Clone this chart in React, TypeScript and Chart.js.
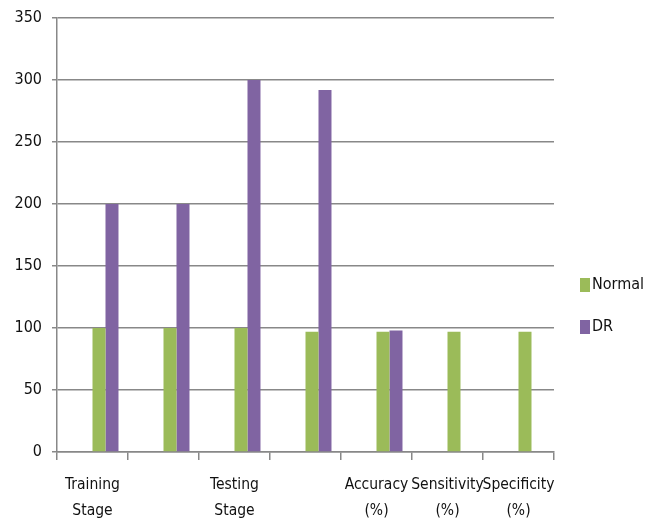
import React, { useEffect, useRef } from "react";
import { Chart, registerables } from "chart.js";

Chart.register(...registerables);

const categories: (string | string[])[] = [
  ["Training", "Stage"],
  "",
  ["Testing", "Stage"],
  "",
  ["Accuracy", "(%)"],
  ["Sensitivity", "(%)"],
  ["Specificity", "(%)"],
];
const normalValues = [100, 100, 100, 97, 97, 97, 97];
const drValues = [200, 200, 300, 292, 98, null, null];
const blankValues = [null, null, null, null, null, null, null];
const seriesNames = ["Normal", "DR"];
const seriesColors = ["#9BBB59", "#8064A2"];
const yTicks = { min: 0, max: 350, step: 50 };

const FONT = '"Liberation Sans Narrow", "DejaVu Sans Condensed", "Arial Narrow", sans-serif';

const legendPlugin = {
  id: "customLegend",
  afterDraw(chart: any) {
    const ctx = chart.ctx;
    ctx.save();
    ctx.font = `16px ${FONT}`;
    ctx.textBaseline = "middle";
    ctx.textAlign = "left";
    const ys = [285, 327];
    seriesNames.forEach((name, i) => {
      ctx.fillStyle = seriesColors[i];
      ctx.fillRect(580, ys[i] - 7, 10, 14);
      ctx.fillStyle = "#111";
      ctx.fillText(name, 592, ys[i]);
    });
    ctx.restore();
  },
};

export default function App() {
  const ref = useRef<HTMLCanvasElement>(null);
  useEffect(() => {
    if (!ref.current) return;
    const chart = new Chart(ref.current, {
      type: "bar",
      data: {
        labels: categories,
        datasets: [
          { label: "blank1", data: blankValues, backgroundColor: "transparent" },
          { label: "blank2", data: blankValues, backgroundColor: "transparent" },
          { label: seriesNames[0], data: normalValues, backgroundColor: seriesColors[0] },
          { label: seriesNames[1], data: drValues, backgroundColor: seriesColors[1] },
        ],
      },
      options: {
        animation: false,
        responsive: true,
        maintainAspectRatio: false,
        layout: { padding: { top: 13, right: 99, left: 0, bottom: 0 } },
        datasets: {
          bar: { categoryPercentage: 0.732, barPercentage: 1 },
        },
        plugins: {
          legend: { display: false },
          tooltip: { enabled: false },
        },
        scales: {
          x: {
            grid: {
              offset: true,
              drawOnChartArea: false,
              drawTicks: true,
              tickLength: 8,
              color: "#888",
              lineWidth: 1.5,
            },
            border: { color: "#888", width: 1.5 },
            ticks: {
              color: "#111",
              font: { family: FONT, size: 15.5, lineHeight: 1.74 },
              padding: 11,
              maxRotation: 0,
              autoSkip: false,
            },
            afterFit(scale: any) {
              scale.height = 68;
            },
          },
          y: {
            min: yTicks.min,
            max: yTicks.max,
            ticks: {
              stepSize: yTicks.step,
              color: "#111",
              font: { family: FONT, size: 16, lineHeight: 1 },
              padding: 10,
            },
            grid: { color: "#888", lineWidth: 1.5, tickLength: 5 },
            border: { color: "#888", width: 1.5 },
            afterFit(scale: any) {
              scale.width = 57;
            },
          },
        },
      },
      plugins: [legendPlugin],
    });
    return () => chart.destroy();
  }, []);
  return (
    <div style={{ position: "fixed", left: 0, top: 0, width: 653, height: 520, background: "#fff" }}>
      <canvas ref={ref} />
    </div>
  );
}
